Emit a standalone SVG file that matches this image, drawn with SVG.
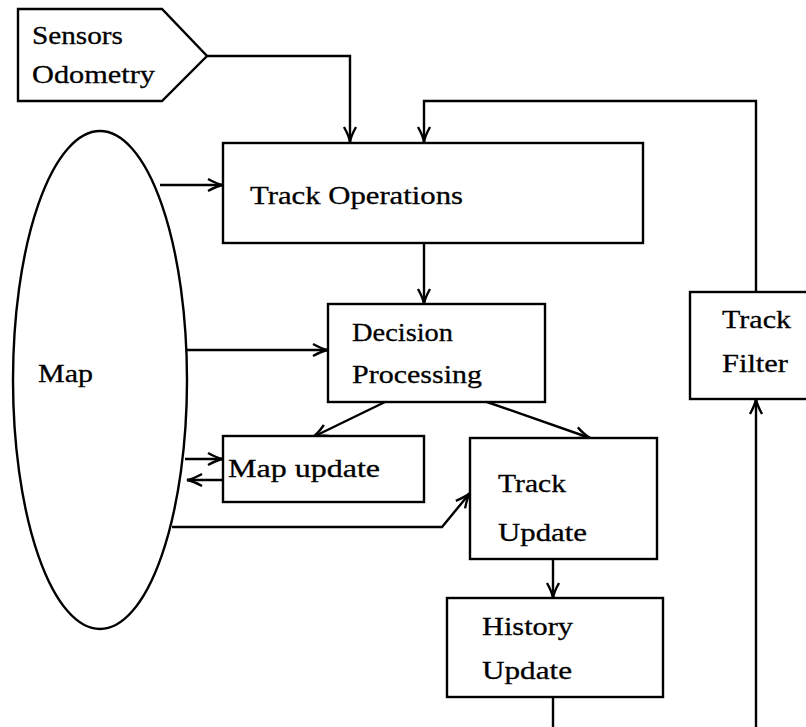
<svg xmlns="http://www.w3.org/2000/svg" width="806" height="727" viewBox="0 0 806 727">
  <style>
    .shape { fill: #fff; stroke: #000; stroke-width: 2.4; }
    .wire { fill: none; stroke: #000; stroke-width: 2.4; }
    .lbl { font-family: "Liberation Serif", "DejaVu Serif", serif; font-size: 26px; fill: #000; stroke: #000; stroke-width: 0.3; }
  </style>
  <defs>
    <marker id="arr" viewBox="-17 -8 19 16" refX="0" refY="0" markerWidth="19" markerHeight="16" markerUnits="userSpaceOnUse" orient="auto">
      <path d="M -15 -6 Q -6 -1 0 0 Q -6 1 -15 6" fill="none" stroke="#000" stroke-width="2.4"/>
    </marker>
  </defs>
  <rect width="806" height="727" fill="#fff"/>

  <g id="connectors">
    <!-- sensor input into track operations -->
    <polyline class="wire" points="207,56 350,56 350,142" marker-end="url(#arr)"/>
    <!-- feedback from track filter -->
    <polyline class="wire" points="756,292 756,101 424,101 424,142" marker-end="url(#arr)"/>
    <!-- map feeds -->
    <line class="wire" x1="160" y1="185" x2="223" y2="185" marker-end="url(#arr)"/>
    <line class="wire" x1="185" y1="350" x2="328" y2="350" marker-end="url(#arr)"/>
    <line class="wire" x1="185" y1="459" x2="223" y2="459" marker-end="url(#arr)"/>
    <line class="wire" x1="223" y1="480" x2="187" y2="480" marker-end="url(#arr)"/>
    <polyline class="wire" points="172,527 442,527 470,493" marker-end="url(#arr)"/>
    <!-- processing chain -->
    <line class="wire" x1="424" y1="243" x2="424" y2="304" marker-end="url(#arr)"/>
    <line class="wire" x1="385" y1="402" x2="313" y2="437" marker-end="url(#arr)"/>
    <line class="wire" x1="487" y1="402" x2="590" y2="438" marker-end="url(#arr)"/>
    <line class="wire" x1="553" y1="559" x2="553" y2="598" marker-end="url(#arr)"/>
    <line class="wire" x1="553" y1="697" x2="553" y2="727"/>
    <line class="wire" x1="756" y1="727" x2="756" y2="399" marker-end="url(#arr)"/>
  </g>

  <g id="sensors">
    <polygon class="shape" points="18,9 162,9 207,56 162,101 18,101"/>
    <text class="lbl" x="32" y="44" textLength="91" lengthAdjust="spacingAndGlyphs">Sensors</text>
    <text class="lbl" x="32" y="83" textLength="123" lengthAdjust="spacingAndGlyphs">Odometry</text>
  </g>

  <g id="map">
    <ellipse class="shape" cx="100" cy="380" rx="87" ry="249"/>
    <text class="lbl" x="38" y="382" textLength="55" lengthAdjust="spacingAndGlyphs">Map</text>
  </g>

  <g id="track-operations">
    <rect class="shape" x="223" y="143" width="420" height="100"/>
    <text class="lbl" x="250" y="204" textLength="213" lengthAdjust="spacingAndGlyphs">Track Operations</text>
  </g>

  <g id="decision-processing">
    <rect class="shape" x="328" y="304" width="217" height="98"/>
    <text class="lbl" x="352" y="341" textLength="101" lengthAdjust="spacingAndGlyphs">Decision</text>
    <text class="lbl" x="352" y="383" textLength="130" lengthAdjust="spacingAndGlyphs">Processing</text>
  </g>

  <g id="map-update">
    <rect class="shape" x="223" y="436" width="201" height="66"/>
    <text class="lbl" x="228" y="477" textLength="152" lengthAdjust="spacingAndGlyphs">Map update</text>
  </g>

  <g id="track-update">
    <rect class="shape" x="470" y="438" width="187" height="121"/>
    <text class="lbl" x="498" y="492" textLength="68" lengthAdjust="spacingAndGlyphs">Track</text>
    <text class="lbl" x="498" y="541" textLength="89" lengthAdjust="spacingAndGlyphs">Update</text>
  </g>

  <g id="history-update">
    <rect class="shape" x="447" y="598" width="216" height="99"/>
    <text class="lbl" x="482" y="635" textLength="91" lengthAdjust="spacingAndGlyphs">History</text>
    <text class="lbl" x="482" y="679" textLength="90" lengthAdjust="spacingAndGlyphs">Update</text>
  </g>

  <g id="track-filter">
    <rect class="shape" x="690" y="292" width="130" height="107"/>
    <text class="lbl" x="722" y="328" textLength="69" lengthAdjust="spacingAndGlyphs">Track</text>
    <text class="lbl" x="722" y="372" textLength="66" lengthAdjust="spacingAndGlyphs">Filter</text>
  </g>
</svg>
